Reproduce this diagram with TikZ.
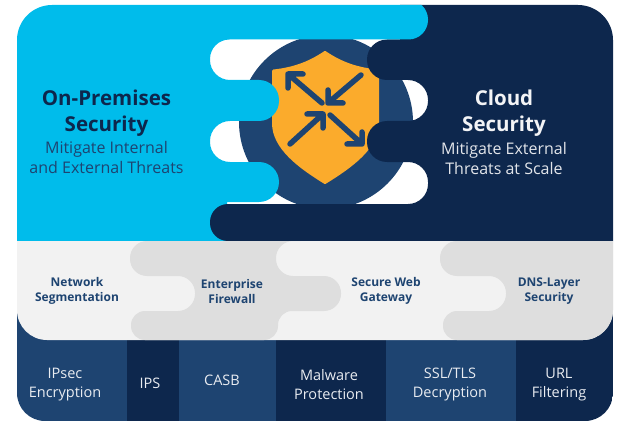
\documentclass[tikz,border=0pt]{standalone}
\usepackage{fontspec}
\setmainfont{Open Sans}
\definecolor{skyfill}{HTML}{00BCEB}
\definecolor{navyfill}{HTML}{0D274D}
\definecolor{bluefill}{HTML}{1E4471}
\definecolor{shieldfill}{HTML}{FBAB2C}
\definecolor{lightband}{HTML}{F2F2F2}
\definecolor{greyband}{HTML}{DEDEDE}
\begin{document}
\begin{tikzpicture}[x=1pt,y=-1pt,
title/.style ={text=navyfill, align=center, font=\fontsize{20.5}{26}\selectfont\bfseries},
subtitle/.style ={text=bluefill, align=center, font=\fontsize{16}{20}\selectfont},
bandlabel/.style ={text=bluefill, align=center, font=\fontsize{12}{15}\selectfont\bfseries},
striplabel/.style ={text=white!90!bluefill, align=center, font=\fontsize{14.5}{19}\selectfont},
arrowline/.style ={draw=bluefill, line width=5.5pt, line cap=round, line join=round}
]
\useasboundingbox (0,0) rectangle (622,428);
\clip (17,200) [rounded corners=35pt] -- (17,5) -- (613,5) [rounded corners=28pt] -- (613,421) -- (17,421) [sharp corners] -- cycle;
% middle circle and shield
\fill[bluefill] (326,122) circle (87);
\fill[shieldfill, draw=shieldfill, line width=3pt, line join=round] (325,52.5)
  .. controls (308,64) and (292,69) .. (273.5,71) -- (273.5,123)
  .. controls (273.5,148) and (300,167) .. (325,182.5)
  .. controls (350,167) and (377.5,148) .. (377.5,123) -- (377.5,71)
  .. controls (358,69) and (342,64) .. (325,52.5) -- cycle;
\draw[arrowline] (322,103) -- (288,74) (303,74) -- (288,74) -- (288,88);
\draw[arrowline] (361,75) -- (328,103) (328,90) -- (328,103) -- (343,103);
\draw[arrowline] (290,144) -- (323,114) (307,114) -- (323,114) -- (323,128);
\draw[arrowline] (330,115) -- (362,144) (347,144) -- (362,144) -- (362,132);
% cloud side
\fill[navyfill] (613,5) -- (613,241) -- (300,241) -- (300,204)
  [rounded corners=20pt] -- (428,204) -- (428,162) -- (367,162) -- (367,121) -- (428,121) -- (428,80) -- (367,80) -- (367,39.5)
  [sharp corners] -- (400,39.5) -- (400,5) -- cycle;
% on-premises side
\fill[skyfill] (17,241) -- (17,5) -- (200,0) [rounded corners=19.5pt] -- (428,0) -- (428,39.5) -- (210,39.5)
  [rounded corners=20pt] -- (210,80) -- (279,80) -- (279,121) -- (210,121) -- (210,162) -- (279,162) -- (279,202)
  [sharp corners] -- (227,202) -- (227,241) -- cycle;
\fill[navyfill] (320,241) [rounded corners=18pt] -- (210,241) -- (210,204) [sharp corners] -- (320,204) -- cycle;
% bottom strip
\fill[bluefill] (17,300) rectangle (127,421);
\fill[navyfill] (127,300) rectangle (179,421);
\fill[bluefill] (179,300) rectangle (276,421);
\fill[navyfill] (276,300) rectangle (386,421);
\fill[bluefill] (386,300) rectangle (516,421);
\fill[navyfill] (516,300) rectangle (613,421);
% middle band
\fill[lightband] (17,241) -- (613,241) [rounded corners=30pt] -- (613,340) -- (17,340) [sharp corners] -- cycle;
\fill[greyband] (300,241) [rounded corners=17pt] -- (276,241) -- (276,276) -- (341,276) -- (341,311)
  [rounded corners=14pt] -- (278,311) -- (278,340) -- (131,340) -- (131,311)
  [rounded corners=17pt] -- (195,311) -- (195,276) -- (130,276) -- (130,241) [sharp corners] -- cycle;
\fill[greyband] (613,241) [rounded corners=17pt] -- (440,241) -- (440,276) -- (506,276) -- (506,311)
  [rounded corners=14pt] -- (443,311) -- (443,340) [rounded corners=30pt] -- (613,340) [sharp corners] -- cycle;
% texts
\node (onprem) at (106.5,113) [title] {On-Premises\\Security};
\node (onpremsub) at (106.5,157.5) [subtitle] {Mitigate Internal\\and External Threats};
\node (cloud) at (504,113) [title, text=white!95!navyfill] {Cloud\\Security};
\node (cloudsub) at (504,158.5) [subtitle, text=white!88!navyfill] {Mitigate External\\Threats at Scale};
\node (network) at (77,291) [bandlabel] {Network\\Segmentation};
\node (firewall) at (232,291) [bandlabel] {Enterprise\\Firewall};
\node (gateway) at (386,291) [bandlabel] {Secure Web\\Gateway};
\node (dns) at (549,291) [bandlabel] {DNS-Layer\\Security};
\node (ipsec) at (65,384.5) [striplabel] {IPsec\\Encryption};
\node (ips) at (150,383) [striplabel] {IPS};
\node (casb) at (222,380) [striplabel] {CASB};
\node (malware) at (329,384.5) [striplabel] {Malware\\Protection};
\node (ssl) at (450,384.5) [striplabel] {SSL/TLS\\Decryption};
\node (url) at (559,384.5) [striplabel] {URL\\Filtering};
\end{tikzpicture}
\end{document}
